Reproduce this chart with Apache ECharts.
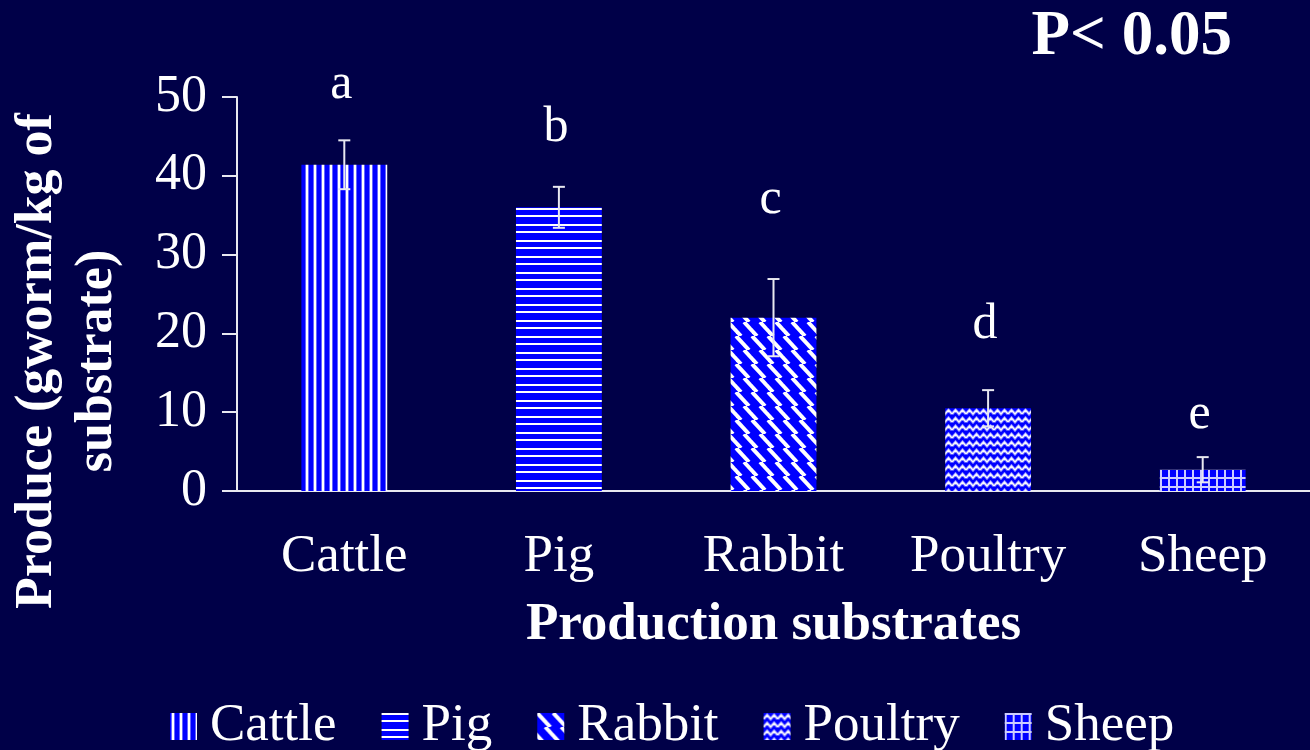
<!DOCTYPE html>
<html><head><meta charset="utf-8">
<script src="https://cdn.jsdelivr.net/npm/echarts@6/dist/echarts.min.js"></script>
<style>html,body{margin:0;padding:0;background:#000048;} #c{width:1310px;height:750px;}</style>
</head><body><div id="c"></div>
<script>
// ---- data ----
const categories = ['Cattle', 'Pig', 'Rabbit', 'Poultry', 'Sheep'];
const means = [41.4, 36.0, 22.0, 10.5, 2.7];
const errors = [3.1, 2.6, 4.9, 2.3, 1.6];
const letters = ['a', 'b', 'c', 'd', 'e'];
const letterHeights = [51.5, 46.1, 36.9, 21.1, 9.6];
const yTicks = [0, 10, 20, 30, 40, 50];
const pText = 'P< 0.05';
const yTitle = 'Produce (gworm/kg of\nsubstrate)';
const xTitle = 'Production substrates';

// ---- patterns ----
const FONT = '"Liberation Serif", "Times New Roman", serif';
function tile(w, h, draw) {
  const c = document.createElement('canvas');
  c.width = w; c.height = h;
  const g = c.getContext('2d');
  g.fillStyle = '#0000ff'; g.fillRect(0, 0, w, h);
  draw(g, w, h);
  return { image: c, repeat: 'repeat' };
}
const patterns = [
  tile(8, 8, g => { g.fillStyle = 'rgba(255,255,255,0.4)'; g.fillRect(1, 0, 4, 8); g.fillStyle = '#fff'; g.fillRect(2, 0, 2, 8); }),
  tile(8, 16, g => { g.fillStyle = '#fff'; g.fillRect(0, 0, 8, 2); g.fillRect(0, 7, 8, 2); }),
  tile(16, 28, g => {
    g.strokeStyle = '#fff'; g.lineWidth = 4;
    g.save(); g.beginPath(); g.rect(0, 0, 16, 14); g.clip();
    for (let x = -32; x <= 32; x += 16) { g.beginPath(); g.moveTo(x, 0); g.lineTo(x + 13, 14); g.stroke(); }
    g.restore();
    g.save(); g.beginPath(); g.rect(0, 14, 16, 14); g.clip();
    for (let x = -32; x <= 32; x += 16) { g.beginPath(); g.moveTo(x + 8, 14); g.lineTo(x + 21, 28); g.stroke(); }
    g.restore();
  }),
  tile(14, 8, g => {
    g.strokeStyle = 'rgba(255,255,255,0.5)'; g.lineWidth = 3;
    g.beginPath(); g.moveTo(0, 6); g.lineTo(3.5, 2); g.lineTo(7, 6); g.lineTo(10.5, 2); g.lineTo(14, 6); g.stroke();
    g.strokeStyle = 'rgba(255,255,255,0.95)'; g.lineWidth = 1.2;
    g.beginPath(); g.moveTo(0, 6); g.lineTo(3.5, 2); g.lineTo(7, 6); g.lineTo(10.5, 2); g.lineTo(14, 6); g.stroke();
  }),
  tile(8, 9, g => { g.fillStyle = 'rgba(255,255,255,0.8)'; g.fillRect(0, 0, 2, 9); g.fillRect(2, 0, 6, 2); })
];

const chart = echarts.init(document.getElementById('c'));
const barSeries = categories.map((c, i) => ({
  name: c, type: 'bar', stack: 's', barWidth: '40%',
  data: means.map((v, j) => (j === i ? v : '-')),
  itemStyle: { color: patterns[i] }
}));

chart.setOption({
  backgroundColor: '#000048',
  animation: false,
  grid: { left: 237, right: -4, top: 97, bottom: 259 },
  xAxis: {
    type: 'category', data: categories,
    axisLine: { lineStyle: { color: '#e8e8f0', width: 2 } },
    axisTick: { length: 16, lineStyle: { color: '#e8e8f0', width: 2 } },
    axisLabel: { color: '#fff', fontSize: 53, fontFamily: FONT, margin: 40 },
    name: xTitle, nameLocation: 'middle', nameGap: 108,
    nameTextStyle: { color: '#fff', fontSize: 53, fontWeight: 'bold', fontFamily: FONT }
  },
  yAxis: {
    type: 'value', min: yTicks[0], max: yTicks[yTicks.length - 1], interval: 10,
    axisLine: { show: true, lineStyle: { color: '#e8e8f0', width: 2 } },
    axisTick: { show: true, length: 15, lineStyle: { color: '#e8e8f0', width: 2 } },
    splitLine: { show: false },
    axisLabel: { color: '#fff', fontSize: 52, fontFamily: FONT, margin: 30 }
  },
  legend: {
    data: categories, top: 695, left: 165, icon: 'rect',
    itemWidth: 27, itemHeight: 27, itemGap: 45,
    textStyle: { color: '#fff', fontSize: 53, fontFamily: FONT, padding: [0, 0, 0, 8] }
  },
  graphic: [
    { type: 'text', right: 78, top: 6, style: { text: pText, fill: '#fff', font: 'bold 63px ' + FONT } },
    { type: 'text', x: 68, y: 361, rotation: Math.PI / 2,
      style: { text: yTitle, fill: '#fff', font: 'bold 52px ' + FONT, align: 'center', verticalAlign: 'middle', lineHeight: 60 } }
  ],
  series: barSeries.concat([
    {
      type: 'custom', z: 10,
      data: categories.map((c, i) => [i, means[i], errors[i]]),
      renderItem: (params, api) => {
        const i = api.value(0), m = api.value(1), e = api.value(2);
        const t = api.coord([i, m + e]), b = api.coord([i, m - e]);
        const hw = 6, st = { stroke: '#e8e8f0', lineWidth: 2 };
        return { type: 'group', children: [
          { type: 'line', shape: { x1: t[0], y1: t[1], x2: b[0], y2: b[1] }, style: st },
          { type: 'line', shape: { x1: t[0] - hw, y1: t[1], x2: t[0] + hw, y2: t[1] }, style: st },
          { type: 'line', shape: { x1: b[0] - hw, y1: b[1], x2: b[0] + hw, y2: b[1] }, style: st }
        ] };
      }
    },
    {
      type: 'custom', z: 11,
      data: categories.map((c, i) => [i, letterHeights[i]]),
      renderItem: (params, api) => {
        const p = api.coord([api.value(0), api.value(1)]);
        return { type: 'text', x: p[0] - 3, y: p[1],
          style: { text: letters[params.dataIndex], fill: '#fff', font: '50px ' + FONT, align: 'center', verticalAlign: 'middle' } };
      }
    }
  ])
});
</script></body></html>
